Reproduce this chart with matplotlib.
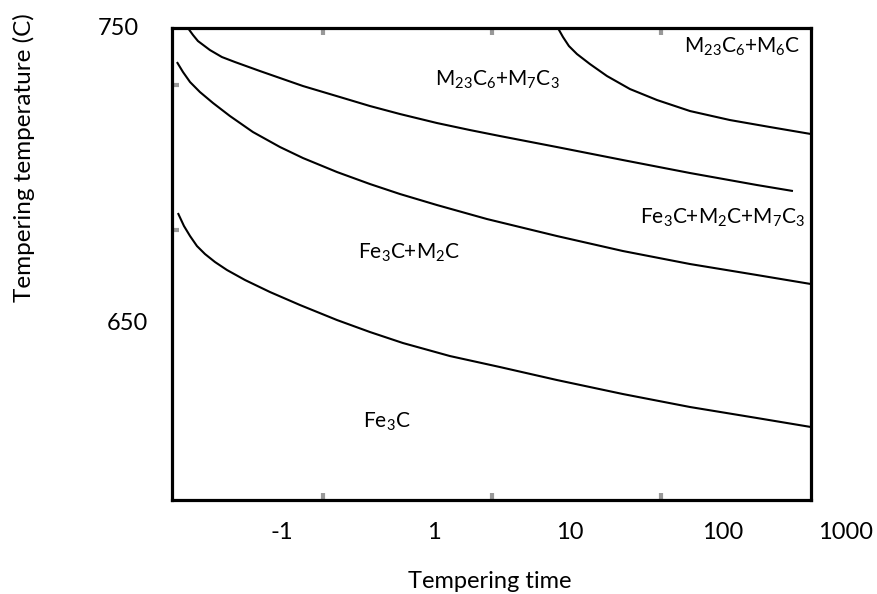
import numpy as np
import matplotlib
matplotlib.use('Agg')
import matplotlib.pyplot as plt

plt.rcParams['font.family'] = ['Lato', 'DejaVu Sans']
plt.rcParams['mathtext.default'] = 'regular'

# x is a log-time position, y is temperature (C)
a_x = [-1.745, -1.709, -1.674, -1.589, -1.504, -1.411, -1.234, -0.929, -0.667, -0.454,
       -0.241, 0.021, 0.255, 0.468, 0.872, 1.340, 1.816, 2.291, 2.546]
a_y = [750.0, 747.63, 745.59, 742.54, 740.17, 738.47, 735.42, 730.34, 726.61, 723.56,
       720.85, 717.80, 715.42, 713.39, 709.66, 705.25, 700.85, 696.78, 694.75]

b_x = [0.879, 0.915, 0.957, 1.014, 1.106, 1.227, 1.390, 1.582, 1.816, 2.099, 2.383, 2.674]
b_y = [750.0, 746.95, 743.90, 741.19, 737.80, 733.73, 729.32, 725.59, 721.86, 718.81, 716.44, 714.07]

c_x = [-1.823, -1.780, -1.730, -1.660, -1.567, -1.447, -1.284, -1.092, -0.929, -0.688,
       -0.454, -0.241, 0.021, 0.376, 0.872, 1.340, 1.816, 2.291, 2.674]
c_y = [738.47, 735.08, 731.69, 728.31, 724.58, 720.17, 714.75, 709.66, 705.93, 701.19,
       697.12, 693.73, 690.0, 685.25, 679.49, 674.41, 670.0, 666.27, 663.22]

d_x = [-1.816, -1.773, -1.730, -1.681, -1.624, -1.553, -1.468, -1.340, -1.163, -0.950,
       -0.688, -0.454, -0.220, 0.113, 0.468, 0.872, 1.340, 1.816, 2.291, 2.674]
d_y = [687.29, 682.88, 679.49, 676.10, 673.39, 670.68, 667.97, 664.58, 660.51, 656.10,
       651.02, 646.95, 643.22, 638.81, 635.08, 630.68, 625.93, 621.53, 617.80, 614.75]

phase_labels = [r'$M_{23}C_6$+$M_7C_3$', r'$M_{23}C_6$+$M_6C$', r'$Fe_3C$+$M_2C$+$M_7C_3$',
                r'$Fe_3C$+$M_2C$', r'$Fe_3C$']
phase_x = [0.447, 2.184, 2.050, -0.177, -0.333]
phase_y = [732.4, 743.6, 685.6, 673.7, 616.4]

xtick_labels = ['-1', '1', '10', '100', '1000']
xtick_pos = [-1.078, 0.0, 0.965, 2.05, 2.92]
ytick_labels = ['750', '650']
ytick_pos = [750, 650]
ytick_xoff = [-0.0845, -0.0704]

fig = plt.figure(figsize=(8.78, 5.94), dpi=100)
ax = fig.add_axes([0.1959, 0.1582, 0.7278, 0.7946])

for xs, ys in [(a_x, a_y), (b_x, b_y), (c_x, c_y), (d_x, d_y)]:
    ax.plot(xs, ys, color='black', lw=1.5, solid_joinstyle='round', solid_capstyle='butt')

for t, x, y in zip(phase_labels, phase_x, phase_y):
    ax.text(x, y, t, fontsize=15, ha='center', va='center')

ax.set_xlim(-1.858, 2.674)
ax.set_ylim(590, 750)

for s in ax.spines.values():
    s.set_linewidth(2.3)

# faint grey tick stubs on the frame
ax.set_xticks([-0.787, 0.411, 1.610])
ax.set_yticks([730.7, 681.5])
ax.tick_params(axis='both', direction='in', length=5, width=3, color='#999999',
               labelbottom=False, labelleft=False, top=True)

for t, x in zip(xtick_labels, xtick_pos):
    ax.text(x, -0.068, t, transform=ax.get_xaxis_transform(), fontsize=17,
            ha='center', va='center', clip_on=False)
for t, y, off in zip(ytick_labels, ytick_pos, ytick_xoff):
    ax.text(off, y, t, transform=ax.get_yaxis_transform(), fontsize=17,
            ha='center', va='center', clip_on=False)

fig.text(490 / 878, 1 - 581 / 594, 'Tempering time', fontsize=17, ha='center', va='center')
fig.text(24 / 878, 1 - 158 / 594, 'Tempering temperature (C)', fontsize=17.5,
         ha='center', va='center', rotation=90)

fig.savefig('out.png', dpi=100)
